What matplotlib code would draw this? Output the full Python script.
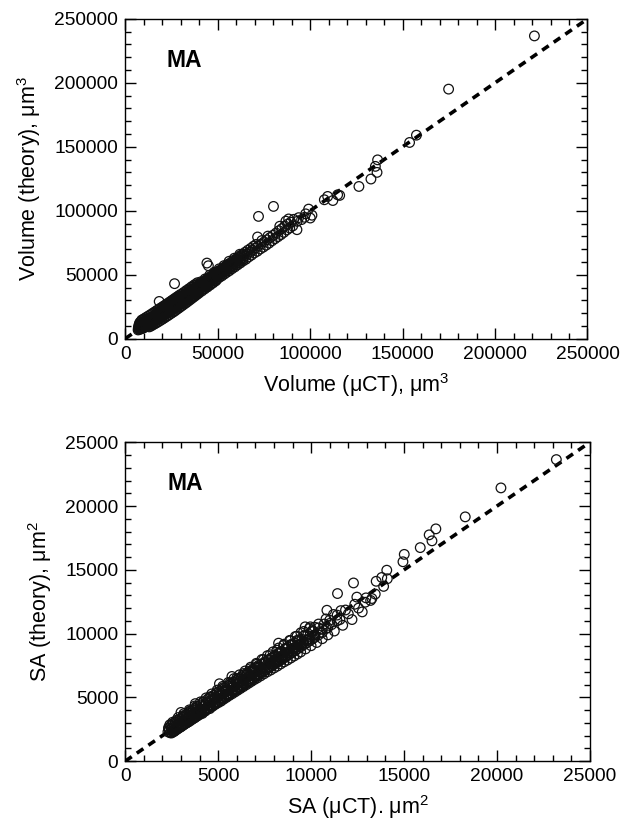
import numpy as np
import matplotlib
matplotlib.use("Agg")
import matplotlib.pyplot as plt
from matplotlib.ticker import MultipleLocator

plt.rcParams['font.family'] = ['Liberation Sans', 'DejaVu Sans']
plt.rcParams['mathtext.fontset'] = 'custom'
plt.rcParams['mathtext.rm'] = 'Liberation Sans'
plt.rcParams['mathtext.it'] = 'Liberation Sans:italic'
plt.rcParams['mathtext.bf'] = 'Liberation Sans:bold'

# ---- data ----
# volume, in thousands of um^3: (uCT, theory)
vol_band = [
    (7.0, 6.8), (7.1, 8.2), (7.3, 9.9), (7.4, 7.4), (7.6, 11.3), (7.8, 8.6), (7.9, 12.6), (8.1, 7.3),
    (8.2, 10.0), (8.4, 11.6), (8.5, 8.3), (8.7, 13.8), (8.9, 9.1), (9.0, 10.7), (9.2, 7.9), (9.3, 12.4),
    (9.5, 8.8), (9.7, 11.1), (9.9, 9.7), (10.0, 13.2), (10.2, 8.6), (10.4, 11.0), (10.5, 12.5), (10.7, 9.4),
    (10.9, 11.7), (11.1, 14.4), (11.3, 10.1), (11.5, 12.9), (11.7, 9.7), (11.9, 11.4),
    (12.2, 10.2), (12.4, 12.1), (12.6, 13.9), (12.8, 15.6), (13.1, 11.0), (13.3, 13.5), (13.5, 15.2),
    (13.8, 11.8), (14.0, 13.3), (14.2, 14.9), (14.4, 16.9), (14.7, 12.4), (14.9, 14.5), (15.1, 16.1),
    (15.4, 13.0), (15.6, 15.2), (15.8, 17.3), (16.0, 18.7), (16.2, 13.7), (16.4, 16.0), (16.6, 18.0),
    (16.9, 14.6), (17.1, 16.6), (17.3, 18.8), (17.5, 20.2), (17.7, 15.3), (17.9, 17.5), (18.1, 19.4),
    (18.3, 15.9), (18.5, 18.3), (18.7, 20.3), (18.9, 22.0), (19.1, 16.5), (19.3, 19.0), (19.5, 21.1),
    (19.8, 17.2), (20.0, 19.7), (20.2, 21.9), (20.4, 23.5), (20.7, 18.1), (20.9, 20.5), (21.1, 22.7),
    (21.4, 18.7), (21.6, 21.3), (21.8, 23.6), (22.0, 25.0), (22.2, 19.5), (22.4, 22.1), (22.6, 24.3),
    (22.9, 20.2), (23.1, 22.7), (23.3, 25.1), (23.5, 26.9), (23.7, 21.0), (23.9, 23.5), (24.1, 25.8),
    (24.4, 21.7), (24.6, 24.4), (24.8, 26.7), (25.0, 28.4), (25.2, 22.3), (25.4, 25.1), (25.6, 27.5),
    (25.9, 23.1), (26.1, 25.8), (26.3, 28.2), (26.5, 29.9), (26.8, 23.7), (27.0, 26.6), (27.2, 29.0),
    (27.4, 24.6), (27.6, 27.4), (27.8, 29.8), (28.0, 31.3), (28.2, 25.2), (28.4, 28.1), (28.6, 30.7),
    (28.9, 26.0), (29.1, 29.0), (29.3, 31.4), (29.5, 33.0), (29.7, 26.7), (29.9, 29.7), (30.2, 32.2),
    (30.5, 27.5), (30.7, 30.5), (30.9, 33.1), (31.1, 34.7), (31.4, 28.3), (31.6, 31.5), (31.9, 33.9),
    (32.2, 29.2), (32.4, 32.2), (32.6, 35.0), (32.9, 36.4), (33.1, 30.0), (33.4, 33.3), (33.7, 35.7),
    (33.9, 30.9), (34.2, 34.1), (34.4, 36.7), (34.7, 38.2), (34.9, 31.8), (35.2, 35.2), (35.5, 37.6),
    (35.9, 32.9), (36.1, 36.1), (36.4, 38.7), (36.7, 40.3), (36.9, 33.7), (37.2, 37.2), (37.5, 39.6),
    (37.9, 34.8), (38.1, 38.1), (38.4, 40.9), (38.7, 42.1), (38.9, 35.7), (39.2, 39.3), (39.6, 41.7),
    (39.9, 36.9), (40.2, 40.2), (40.5, 43.0), (40.8, 44.4), (41.1, 38.0), (41.4, 41.4), (41.8, 44.1),
    (42.3, 39.1), (42.6, 42.7), (42.9, 45.3), (43.2, 46.7), (43.5, 40.4), (43.9, 43.9), (44.3, 46.6),
    (44.7, 41.5), (45.0, 45.1), (45.3, 47.9), (45.7, 49.6), (45.9, 42.7), (46.3, 46.3), (46.7, 49.0),
    (47.1, 43.9), (47.4, 47.6), (47.8, 50.3), (48.1, 51.9), (48.4, 45.2), (48.8, 48.7), (49.2, 51.6),
    (49.7, 46.5), (50.0, 50.1), (50.4, 52.9), (50.8, 54.6),
    (51.0, 48.0), (51.5, 51.4), (51.9, 54.1), (52.3, 49.1), (52.7, 52.7), (53.1, 55.5), (53.4, 57.1),
    (53.6, 50.5), (54.1, 54.1), (54.6, 57.0), (55.0, 51.9), (55.4, 55.3), (55.8, 58.4), (56.2, 60.5),
    (56.4, 53.2), (56.9, 56.9), (57.4, 59.7), (57.8, 54.7), (58.2, 58.3), (58.6, 61.3), (59.0, 62.9),
    (59.3, 56.1), (59.8, 59.8), (60.3, 62.7), (60.8, 57.7), (61.2, 61.3), (61.6, 64.4), (62.0, 66.0),
    (62.3, 59.2), (62.8, 62.9), (63.3, 65.9), (63.8, 60.8), (64.3, 64.5), (64.8, 67.5), (65.3, 62.1),
    (65.8, 66.0), (66.3, 69.1), (66.8, 63.9), (67.3, 67.6), (67.8, 70.5), (68.3, 65.3), (68.8, 69.1),
    (69.3, 72.2), (69.8, 67.0), (70.3, 70.7), (70.8, 73.7),
    (71.4, 68.3), (71.9, 72.4), (73.0, 70.1), (73.4, 73.9), (73.9, 76.7), (74.6, 71.5), (75.1, 75.6),
    (76.2, 73.1), (76.7, 77.3), (77.2, 80.2), (77.8, 74.7), (78.4, 79.1), (79.4, 76.5), (80.0, 80.9),
    (81.0, 78.1), (81.6, 82.6), (82.6, 79.7), (83.1, 84.4), (83.6, 87.9), (84.2, 81.3), (84.8, 86.1),
    (85.8, 83.1), (86.3, 88.1), (86.9, 91.9), (87.4, 85.0), (87.9, 89.6), (88.4, 93.6), (89.0, 86.5),
    (89.6, 91.1), (90.6, 88.1), (91.2, 93.3), (93.0, 91.7), (93.8, 94.6), (95.4, 93.1), (97.0, 94.9),
    (97.6, 97.6),
]
vol_fill = [
    (7.2, 7.6), (7.5, 8.9), (7.7, 10.2), (8.0, 9.3), (8.3, 8.0), (8.6, 10.4), (8.8, 12.0), (9.1, 9.6),
    (9.4, 11.5), (9.6, 10.2), (9.9, 8.6), (10.1, 11.8), (10.3, 10.0), (10.6, 9.2), (10.8, 12.9), (11.0, 10.6),
    (11.2, 12.2), (11.4, 9.8), (11.7, 13.4), (11.9, 10.5), (12.1, 12.8), (12.4, 11.0), (12.7, 12.9),
    (12.9, 14.6), (13.2, 12.2), (13.5, 14.2), (13.7, 12.6), (14.0, 14.1), (14.3, 16.0), (14.6, 13.4),
    (14.9, 15.3), (15.2, 14.1), (15.5, 16.4), (15.8, 14.4), (16.1, 16.9), (16.4, 15.0), (16.7, 17.2),
    (17.0, 15.6), (17.3, 17.9), (17.6, 16.4), (17.9, 18.6), (18.2, 17.0), (18.5, 19.5), (18.8, 17.6),
    (19.1, 20.0), (19.4, 18.1), (19.7, 20.6), (20.0, 18.7), (20.3, 21.0), (20.6, 19.4), (20.9, 21.8),
    (21.2, 20.0), (21.5, 22.4), (21.8, 20.6), (22.1, 23.2), (22.4, 21.2), (22.7, 23.7), (23.0, 21.8),
    (23.3, 24.4), (23.6, 22.4), (23.9, 25.0), (24.2, 23.0), (24.5, 25.6), (24.8, 23.7), (25.1, 26.3),
    (25.4, 24.3), (25.7, 26.9), (26.0, 24.9), (26.3, 27.4), (26.6, 25.5), (26.9, 28.1), (27.2, 26.1),
    (27.5, 28.7), (27.8, 26.8), (28.1, 29.3), (28.4, 27.4), (28.7, 29.9), (29.0, 28.0), (29.3, 30.4),
    (29.6, 28.6), (29.9, 31.1), (30.3, 29.2), (30.7, 31.8), (31.1, 29.9), (31.5, 32.7), (31.9, 30.7),
    (32.3, 33.4), (32.7, 31.5), (33.1, 34.3), (33.5, 32.3), (33.9, 35.1), (34.3, 33.1), (34.7, 35.9),
    (35.1, 33.9), (35.5, 36.6), (35.9, 34.7), (36.3, 37.5), (36.7, 35.5), (37.1, 38.4), (37.5, 36.3),
    (37.9, 39.2), (38.3, 37.1), (38.7, 40.0), (39.1, 37.9), (39.5, 40.8), (39.9, 38.7), (40.4, 41.7),
    (40.9, 39.6), (41.4, 42.8), (41.9, 40.7), (42.4, 43.9), (42.9, 41.6), (43.4, 44.9), (43.9, 42.5),
    (44.4, 45.8), (44.9, 43.6), (45.4, 47.0), (45.9, 44.4), (46.4, 47.8), (46.9, 45.5), (47.4, 49.0),
    (47.9, 46.5), (48.4, 50.0), (48.9, 47.4), (49.4, 51.0), (49.9, 48.5), (50.5, 52.0), (51.1, 49.6),
    (51.7, 53.2), (52.3, 50.8), (52.9, 54.4), (53.5, 52.0), (54.1, 55.7), (54.7, 53.2), (55.3, 56.9),
    (55.9, 54.4), (56.5, 58.1), (57.1, 55.6), (57.7, 59.4), (58.3, 56.8), (58.9, 60.5), (59.5, 58.0),
    (60.1, 61.8), (60.8, 59.2), (61.5, 63.2), (62.2, 60.6), (62.9, 64.6), (63.6, 62.0), (64.3, 66.1),
]
vol_low_edge = [
    (13.0, 9.2), (14.0, 9.9), (15.0, 10.8), (16.0, 11.6), (17.0, 12.4), (18.0, 13.3), (19.0, 14.2),
    (20.0, 15.1), (21.0, 16.0), (22.0, 17.0), (23.0, 17.9), (24.0, 18.9), (25.0, 19.9), (26.0, 20.8),
    (27.0, 21.8), (28.0, 22.9), (29.0, 23.9), (30.0, 25.0), (31.0, 26.0), (32.0, 27.1), (33.0, 28.1),
    (34.0, 29.2), (35.0, 30.3), (36.0, 31.4), (37.0, 32.5), (38.0, 33.6), (39.0, 34.7), (40.0, 35.8),
    (41.5, 37.3), (43.0, 38.9), (44.5, 40.4), (46.0, 42.0), (47.5, 43.6), (49.0, 45.2),
]
vol_high_edge = [
    (9.0, 14.6), (10.0, 15.4), (11.0, 16.3), (12.0, 17.2), (13.0, 18.1), (14.0, 19.0), (15.0, 20.0),
    (16.0, 20.9), (17.0, 21.9), (18.0, 22.8), (19.0, 23.8), (20.0, 24.7), (21.0, 25.7), (22.0, 26.6),
    (23.0, 27.6), (24.0, 28.6), (25.0, 29.6), (26.0, 30.6), (27.0, 31.6), (28.0, 32.6), (29.0, 33.6),
    (30.0, 34.6), (31.5, 36.0), (33.0, 37.6), (34.5, 39.1), (36.0, 40.7), (37.5, 42.2), (39.0, 43.7),
]
vol_outliers = [
    (18.4, 29.1), (26.7, 43.0), (44.2, 59.1), (45.0, 57.0), (71.6, 79.5), (72.1, 95.6), (80.2, 103.4),
    (92.9, 85.2), (99.2, 101.3), (100.1, 94.3), (101.0, 96.5), (107.7, 108.6), (109.5, 111.2),
    (112.3, 108.0), (114.9, 112.5), (116.0, 112.0), (126.4, 119.0), (132.9, 124.8), (136.2, 130.0),
    (135.3, 134.7), (136.5, 139.8), (153.8, 153.4), (157.5, 159.1), (174.9, 195.1), (221.3, 236.7),
]
vol_line_x = [0, 250]
vol_line_y = [0, 250]

# surface area, in thousands of um^2: (uCT, theory)
sa_band = [
    (2.30, 2.30), (2.33, 2.62), (2.38, 2.45), (2.42, 2.22), (2.46, 2.78), (2.50, 2.52), (2.55, 2.33),
    (2.58, 2.95), (2.62, 2.66), (2.66, 2.42), (2.70, 3.05), (2.74, 2.78), (2.78, 2.52), (2.82, 3.18),
    (2.86, 2.90), (2.90, 2.63), (2.94, 3.30), (2.98, 3.02), (3.02, 2.74), (3.06, 3.42), (3.10, 3.13),
    (3.14, 2.85), (3.18, 3.55), (3.22, 3.24), (3.26, 2.96), (3.30, 3.66), (3.34, 3.36), (3.38, 3.06),
    (3.42, 3.80), (3.46, 3.48), (3.50, 3.17), (3.54, 3.92), (3.58, 3.60), (3.62, 3.29), (3.66, 4.03),
    (3.70, 3.72), (3.74, 3.40), (3.78, 4.15), (3.82, 3.84), (3.86, 3.52), (3.90, 4.28), (3.94, 3.96),
    (3.98, 3.63),
    (4.05, 4.42), (4.10, 4.08), (4.15, 3.74), (4.20, 4.62), (4.25, 4.30), (4.30, 3.92), (4.35, 4.60),
    (4.40, 4.05), (4.45, 4.88), (4.50, 4.52), (4.55, 4.12), (4.60, 5.00), (4.65, 4.70), (4.70, 4.30),
    (4.75, 5.15), (4.80, 4.85), (4.85, 4.45), (4.90, 5.30), (4.95, 5.00), (5.00, 4.58), (5.05, 5.45),
    (5.10, 5.12), (5.15, 4.70), (5.20, 5.60), (5.25, 5.28), (5.30, 4.86), (5.35, 5.74), (5.40, 5.42),
    (5.45, 5.00), (5.50, 5.90), (5.55, 5.58), (5.60, 5.15), (5.65, 6.02), (5.70, 5.72), (5.75, 5.28),
    (5.80, 6.18), (5.85, 5.86), (5.90, 5.42), (5.95, 6.32), (6.00, 6.00), (6.05, 5.56), (6.10, 6.46),
    (6.15, 6.14), (6.20, 5.70), (6.25, 6.60), (6.30, 6.28), (6.35, 5.84), (6.40, 6.76), (6.45, 6.44),
    (6.50, 5.98), (6.55, 6.90), (6.60, 6.58), (6.65, 6.12), (6.70, 7.05), (6.75, 6.72), (6.80, 6.26),
    (6.85, 7.18), (6.90, 6.88), (6.95, 6.40), (7.00, 7.34),
    (7.05, 7.02), (7.10, 6.52), (7.15, 7.48), (7.22, 7.18), (7.28, 6.68), (7.34, 7.62), (7.40, 7.34),
    (7.46, 6.84), (7.52, 7.80), (7.58, 7.50), (7.64, 7.00), (7.70, 7.95), (7.76, 7.66), (7.82, 7.14),
    (7.88, 8.12), (7.94, 7.82), (8.00, 7.30), (8.06, 8.28), (8.12, 7.98), (8.18, 7.45), (8.24, 8.44),
    (8.30, 8.14), (8.36, 7.62), (8.42, 8.60), (8.48, 8.30), (8.54, 7.78), (8.60, 8.76), (8.66, 8.46),
    (8.72, 7.92), (8.78, 8.92), (8.84, 8.62), (8.90, 8.08), (8.96, 9.08), (9.02, 8.78), (9.08, 8.24),
    (9.14, 9.25), (9.20, 8.94), (9.26, 8.40), (9.32, 9.40), (9.38, 9.10), (9.44, 8.56), (9.50, 9.56),
    (9.60, 9.30), (9.70, 8.80), (9.80, 9.85), (9.90, 9.55), (10.00, 9.05), (10.10, 10.15), (10.20, 9.80),
    (10.30, 9.30), (10.40, 10.45), (10.50, 10.10), (10.60, 9.60), (10.70, 10.75), (10.80, 10.40),
    (10.90, 9.90), (11.00, 11.05), (11.10, 10.70), (11.25, 10.20), (11.40, 11.45), (11.55, 11.10),
    (11.70, 10.65), (11.85, 11.85), (12.00, 11.55), (12.20, 11.10), (12.35, 12.30), (12.55, 12.00),
    (12.75, 11.70), (12.95, 12.80), (13.20, 12.60), (13.45, 13.10),
]
sa_fill = [
    (2.35, 2.55), (2.45, 2.30), (2.55, 3.05), (2.65, 2.85), (2.75, 2.58), (2.85, 3.42), (2.95, 3.17),
    (3.05, 2.88), (3.15, 3.72), (3.25, 3.47), (3.35, 3.15), (3.45, 4.02), (3.55, 3.77), (3.65, 3.45),
    (3.75, 4.33), (3.85, 4.07), (3.95, 3.75), (4.05, 4.65), (4.15, 4.37), (4.25, 4.05), (4.35, 4.96),
    (4.45, 4.67), (4.55, 4.34), (4.65, 5.27), (4.75, 4.97), (4.85, 4.64), (4.95, 5.57), (5.05, 5.27),
    (5.15, 4.94), (5.25, 5.87), (5.35, 5.57), (5.45, 5.24), (5.55, 6.17), (5.65, 5.87), (5.75, 5.54),
    (5.85, 6.47), (5.95, 6.17), (6.05, 5.84), (6.15, 6.77), (6.25, 6.47), (6.35, 6.14), (6.45, 7.07),
    (6.55, 6.77), (6.65, 6.44), (6.75, 7.37), (6.85, 7.07), (6.95, 6.74), (7.05, 7.67), (7.15, 7.37),
    (7.25, 7.04), (7.35, 7.97), (7.45, 7.67), (7.55, 7.34), (7.65, 8.27), (7.75, 7.97), (7.85, 7.64),
    (7.95, 8.57), (8.05, 8.27), (8.15, 7.94), (8.25, 8.87), (8.35, 8.57), (8.45, 8.24), (8.55, 9.17),
    (8.65, 8.87), (8.75, 8.54), (8.85, 9.47), (8.95, 9.17), (9.05, 8.84), (9.15, 9.77), (9.25, 9.47),
    (9.35, 9.14), (9.45, 10.07), (9.60, 9.82), (9.75, 9.50), (9.90, 10.40), (10.05, 10.20), (10.20, 10.50),
    (10.40, 10.75), (10.60, 10.35), (10.80, 11.15), (11.00, 10.80), (11.20, 11.50), (11.40, 11.00),
    (11.60, 11.80),
]
sa_fill_mid = [
    (2.40, 2.85), (2.52, 2.62), (2.64, 2.34), (2.76, 3.21), (2.88, 2.98), (3.00, 2.70), (3.12, 3.57),
    (3.24, 3.34), (3.36, 3.06), (3.48, 3.93), (3.60, 3.70), (3.72, 3.42), (3.84, 4.30), (3.96, 4.06),
    (4.08, 3.78), (4.20, 4.67), (4.32, 4.43), (4.44, 4.14), (4.56, 5.04), (4.68, 4.80), (4.80, 4.50),
    (4.92, 5.40), (5.04, 5.16), (5.16, 4.86), (5.28, 5.77), (5.40, 5.52), (5.52, 5.22), (5.64, 6.14),
    (5.76, 5.89), (5.88, 5.58), (6.00, 6.50), (6.12, 6.25), (6.24, 5.94), (6.36, 6.87), (6.48, 6.62),
    (6.60, 6.30), (6.72, 7.24), (6.84, 6.98), (6.96, 6.66), (7.08, 7.60), (7.20, 7.34), (7.32, 7.02),
    (7.44, 7.97), (7.56, 7.70), (7.68, 7.38), (7.80, 8.34), (7.92, 8.06), (8.04, 7.74), (8.16, 8.70),
    (8.28, 8.42), (8.40, 8.10), (8.52, 9.07), (8.64, 8.79), (8.76, 8.46), (8.88, 9.44), (9.00, 9.15),
    (9.12, 8.82), (9.24, 9.80), (9.36, 9.52), (9.48, 9.18), (9.60, 10.17), (9.72, 9.88), (9.84, 9.54),
    (9.96, 10.53), (10.08, 10.24), (10.20, 9.90),
]
sa_fill_low = [
    (2.50, 2.21), (2.60, 2.31), (2.70, 2.41), (2.80, 2.50), (2.90, 2.61), (3.00, 2.71), (3.10, 2.80),
    (3.20, 2.91), (3.30, 3.01), (3.40, 3.10), (3.50, 3.21), (3.60, 3.31), (3.70, 3.40), (3.80, 3.50),
    (3.90, 3.61), (4.00, 3.70), (4.10, 3.80), (4.20, 3.90), (4.30, 4.00), (4.40, 4.09), (4.50, 4.19),
    (4.60, 4.29), (4.70, 4.38), (4.80, 4.48), (4.90, 4.58), (5.00, 4.67), (5.10, 4.77), (5.20, 4.87),
    (5.30, 4.96), (5.40, 5.06), (5.50, 5.16), (5.60, 5.25), (5.70, 5.35), (5.80, 5.45), (5.90, 5.54),
    (6.00, 5.64), (6.10, 5.74), (6.20, 5.83), (6.30, 5.93), (6.40, 6.03), (6.50, 6.12), (6.60, 6.22),
    (6.70, 6.32), (6.80, 6.41), (6.90, 6.51), (7.00, 6.61), (7.10, 6.70), (7.20, 6.80), (7.30, 6.90),
    (7.40, 6.99), (7.50, 7.09), (7.60, 7.19), (7.70, 7.28), (7.80, 7.38), (7.90, 7.48), (8.00, 7.57),
    (8.10, 7.67), (8.20, 7.77), (8.30, 7.86), (8.40, 7.96), (8.50, 8.06), (8.60, 8.15), (8.70, 8.25),
    (8.80, 8.35), (8.90, 8.44), (9.00, 8.54), (9.15, 8.68), (9.30, 8.83), (9.45, 8.97), (9.60, 9.12),
    (9.75, 9.26), (9.90, 9.41), (10.05, 9.55), (10.20, 9.70), (10.40, 9.89), (10.60, 10.08),
]
sa_outliers = [
    (3.00, 3.82), (3.77, 4.51), (5.07, 6.07), (5.74, 6.64), (8.25, 9.25), (9.68, 10.53), (10.85, 11.83),
    (10.89, 10.45), (11.42, 13.14), (12.28, 13.97), (12.91, 12.46), (12.46, 12.86), (13.27, 12.75),
    (13.50, 14.10), (13.80, 14.40), (14.07, 14.97), (14.10, 14.30), (13.90, 13.70), (14.94, 15.63),
    (15.01, 16.21), (15.87, 16.74), (16.35, 17.74), (16.50, 17.27), (16.71, 18.21), (18.29, 19.15),
    (20.21, 21.42), (23.19, 23.64),
]
sa_line_x = [0, 25]
sa_line_y = [0, 25]


def panel(ax, groups, line_x, line_y, vmax, major, minor, xlabel, ylabel):
    pts = np.array(sum(groups, [])) * 1000
    ax.plot(np.array(line_x) * 1000, np.array(line_y) * 1000, color='black', lw=2.6,
            linestyle=(0, (2.2, 1.7)), zorder=1)
    ax.scatter(pts[:, 0], pts[:, 1], s=48, facecolors='none', edgecolors='#111111',
               linewidths=0.9, zorder=2)
    ax.set_xlim(0, vmax)
    ax.set_ylim(0, vmax)
    ax.xaxis.set_major_locator(MultipleLocator(major))
    ax.yaxis.set_major_locator(MultipleLocator(major))
    ax.xaxis.set_minor_locator(MultipleLocator(minor))
    ax.yaxis.set_minor_locator(MultipleLocator(minor))
    ax.tick_params(which='both', direction='in', top=True, right=True, width=1.0)
    ax.tick_params(which='major', length=8)
    ax.tick_params(which='minor', length=4.3)
    ax.tick_params(axis='x', which='major', pad=5, labelsize=13.8)
    ax.tick_params(axis='y', which='major', pad=5, labelsize=13.8)
    for sp in ax.spines.values():
        sp.set_linewidth(1.0)
    ax.set_xlabel(xlabel, fontsize=15.5, labelpad=6)
    ax.set_ylabel(ylabel, fontsize=15.5, labelpad=8)
    ax.text(0.09, 0.87, 'MA', transform=ax.transAxes, fontsize=16.5, fontweight='bold',
            va='center', ha='left')


fig = plt.figure(figsize=(6.29, 8.22), dpi=100)
ax1 = fig.add_axes([0.199, 0.588, 0.735, 0.389])
ax2 = fig.add_axes([0.199, 0.074, 0.739, 0.388])

panel(ax1, [vol_band, vol_fill, vol_low_edge, vol_high_edge, vol_outliers],
      vol_line_x, vol_line_y, 250000, 50000, 10000,
      'Volume (\u03bcCT), \u03bcm$^3$', 'Volume (theory), \u03bcm$^3$')
panel(ax2, [sa_band, sa_fill, sa_fill_mid, sa_fill_low, sa_outliers],
      sa_line_x, sa_line_y, 25000, 5000, 1000,
      'SA (\u03bcCT). \u03bcm$^2$', 'SA (theory), \u03bcm$^2$')

fig.savefig('out.png', dpi=100)
